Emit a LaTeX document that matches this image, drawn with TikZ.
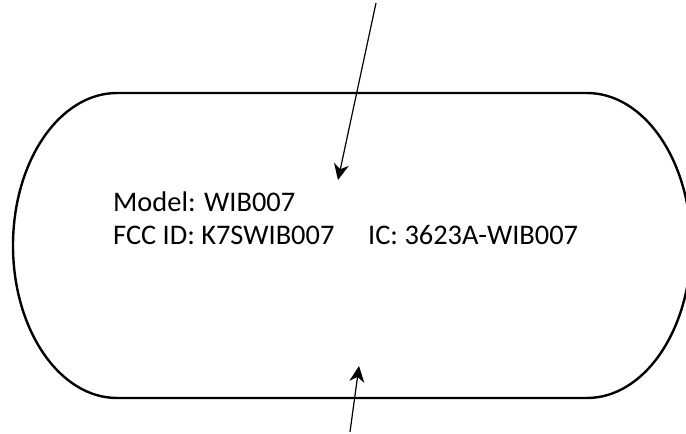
\documentclass[tikz,border=0pt]{standalone}
\usepackage{fontspec}
\setmainfont{Carlito}
\usetikzlibrary{arrows.meta,positioning}

\begin{document}
\begin{tikzpicture}[x=1pt,y=1pt,
    labeltext/.style={inner sep=0pt,anchor=base west,font=\fontsize{28.4}{34}\selectfont},
    pointer/.style={line width=1.2pt,-{Stealth[length=16pt,width=15pt,inset=5pt]}}]
\useasboundingbox (0,0) rectangle (686,434);
\clip (0,0) rectangle (686,434);
\draw[line width=2.4pt] (587,341) arc[start angle=90,end angle=-90,x radius=104,y radius=152.5]
  -- (117,36) arc[start angle=270,end angle=90,x radius=104,y radius=152.5] -- cycle;
\node[labeltext] (model) at (113,222) {Model: WIB007};
\node[labeltext] (fcc) at (113,189) {FCC ID: K7SWIB007};
\node[labeltext] (ic) at (368,189) {IC: 3623A-WIB007};
\coordinate (toptail) at (376,431);
\coordinate (toptip) at (338,254);
\coordinate (bottail) at (350,2);
\coordinate (bottip) at (359,68);
\draw[pointer] (toptail) -- (toptip);
\draw[pointer] (bottail) -- (bottip);
\end{tikzpicture}
\end{document}
